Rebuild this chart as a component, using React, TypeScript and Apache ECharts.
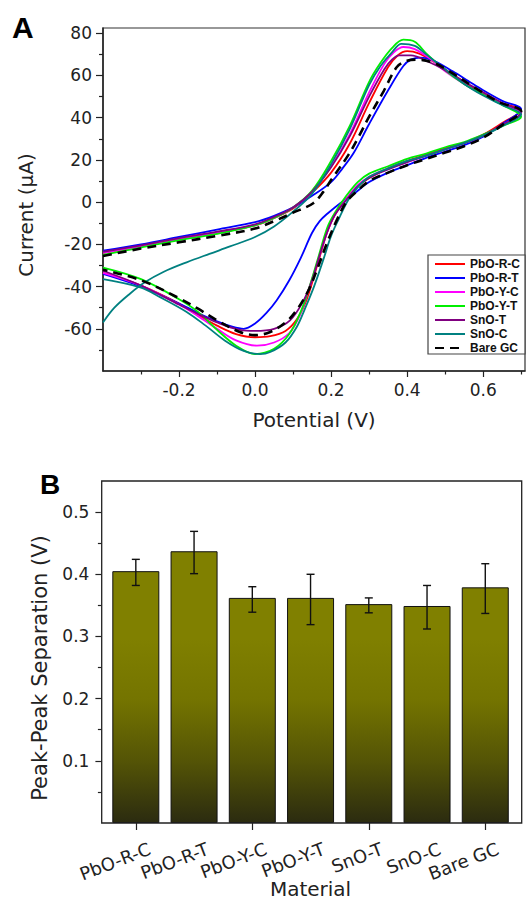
import React, { useEffect, useRef } from "react";
import * as echarts from "echarts";

// ---------- Panel A: cyclic voltammograms (potential V, current µA) ----------
const cvNames = ["PbO-R-C", "PbO-R-T", "PbO-Y-C", "PbO-Y-T", "SnO-T", "SnO-C", "Bare GC"];

const cvPbORC: [number, number][] = [
  [-0.4, -24], [-0.3, -21], [-0.2, -17.5], [-0.1, -14.5], [0, -11], [0.05, -7.5], [0.1, -3], [0.15, 4.5],
  [0.2, 14], [0.25, 28], [0.3, 47], [0.35, 64], [0.375, 69.5], [0.4, 71.5], [0.43, 70.5], [0.47, 66.5],
  [0.52, 60.5], [0.58, 53.5], [0.64, 47.5], [0.7, 43.5],
  [0.65, 37.5], [0.6, 32], [0.55, 28], [0.5, 25.5], [0.45, 22.5], [0.4, 19.5], [0.35, 16], [0.3, 11.5],
  [0.27, 7.5], [0.24, 1.5], [0.21, -6], [0.19, -14], [0.165, -29], [0.136, -46], [0.11, -55.5], [0.08, -61],
  [0.04, -63.5], [0, -64], [-0.05, -62.5], [-0.1, -58.5], [-0.15, -53.5], [-0.2, -48], [-0.3, -39.5], [-0.4, -33.5],
];
const cvPbORT: [number, number][] = [
  [-0.4, -23], [-0.3, -20], [-0.2, -16.5], [-0.1, -13], [0, -9.5], [0.05, -6.5], [0.1, -2.5], [0.15, 3],
  [0.2, 9.5], [0.23, 16], [0.26, 23.5], [0.3, 37], [0.35, 53], [0.39, 64.5], [0.41, 67.5], [0.435, 68.5],
  [0.47, 67], [0.52, 62], [0.56, 57.5], [0.6, 53], [0.65, 48], [0.7, 44],
  [0.65, 37], [0.6, 31], [0.55, 27], [0.5, 24], [0.45, 21], [0.4, 17.5], [0.35, 14], [0.3, 9.5],
  [0.26, 4], [0.224, -0.5], [0.19, -5.5], [0.17, -9], [0.15, -14.5], [0.12, -26.5], [0.09, -37], [0.057, -46.5],
  [0.03, -52.5], [0, -57.5], [-0.03, -60], [-0.06, -59], [-0.1, -56.5], [-0.15, -52.5], [-0.2, -48], [-0.3, -40], [-0.4, -34],
];
const cvPbOYC: [number, number][] = [
  [-0.4, -24], [-0.3, -21], [-0.2, -17.5], [-0.1, -14.5], [0, -11], [0.05, -7.5], [0.1, -2.5], [0.15, 5],
  [0.2, 17], [0.25, 32.5], [0.3, 52], [0.34, 65.5], [0.365, 71], [0.39, 73.5], [0.42, 72.5], [0.46, 68],
  [0.5, 62], [0.55, 56], [0.6, 51], [0.65, 46.5], [0.7, 42],
  [0.65, 36.5], [0.6, 31.5], [0.55, 28], [0.5, 25], [0.45, 22], [0.4, 19], [0.35, 16], [0.3, 12],
  [0.27, 8], [0.24, 1.5], [0.21, -6], [0.19, -14], [0.165, -28], [0.14, -42], [0.118, -53.5], [0.09, -62],
  [0.05, -66.5], [0.005, -68], [-0.05, -65.5], [-0.1, -60], [-0.15, -54], [-0.2, -48.5], [-0.3, -39.5], [-0.4, -33.5],
];
const cvPbOYT: [number, number][] = [
  [-0.4, -25], [-0.3, -21.5], [-0.2, -18], [-0.1, -15], [0, -11], [0.05, -7.5], [0.1, -2.5], [0.15, 5.5],
  [0.2, 19.5], [0.25, 36.5], [0.3, 57], [0.33, 66], [0.36, 73], [0.39, 77], [0.42, 76], [0.45, 70.5],
  [0.5, 62.5], [0.55, 56], [0.6, 51], [0.65, 46], [0.7, 40.5],
  [0.65, 36], [0.6, 32], [0.55, 28.5], [0.5, 26], [0.45, 23], [0.4, 20.5], [0.35, 17], [0.3, 13.5],
  [0.27, 9.5], [0.24, 3], [0.21, -5], [0.19, -12], [0.165, -27], [0.145, -39], [0.12, -52], [0.09, -62.5],
  [0.05, -69.5], [0, -72], [-0.05, -68], [-0.1, -60.5], [-0.15, -52], [-0.2, -46], [-0.3, -36.5], [-0.4, -31],
];
const cvSnOT: [number, number][] = [
  [-0.4, -23.5], [-0.3, -20.5], [-0.2, -17], [-0.1, -14], [0, -10.5], [0.05, -7], [0.1, -2.5], [0.15, 5],
  [0.2, 16.5], [0.25, 31.5], [0.3, 50], [0.34, 63], [0.36, 67.5], [0.38, 69.5], [0.41, 69.5], [0.45, 67],
  [0.5, 62.5], [0.55, 57], [0.6, 52], [0.65, 47], [0.7, 42.5],
  [0.65, 36.5], [0.6, 31.5], [0.55, 28], [0.5, 25], [0.45, 22], [0.4, 19], [0.35, 15.5], [0.3, 11.5],
  [0.27, 7.5], [0.24, 1], [0.21, -6], [0.19, -14], [0.17, -25], [0.15, -37], [0.125, -47.5], [0.092, -56],
  [0.05, -60], [0, -61], [-0.04, -60.5], [-0.1, -57], [-0.15, -53], [-0.2, -48.5], [-0.3, -39.5], [-0.4, -32.5],
];
const cvSnOC: [number, number][] = [
  [-0.4, -57], [-0.37, -50], [-0.33, -43.5], [-0.29, -38], [-0.24, -33], [-0.18, -28.5], [-0.12, -24.5], [-0.066, -21],
  [0, -16.5], [0.05, -11.5], [0.1, -4.5], [0.15, 4], [0.2, 18], [0.25, 35], [0.3, 55.5], [0.33, 64.5],
  [0.36, 71], [0.385, 75], [0.42, 74], [0.45, 70], [0.5, 63], [0.55, 56], [0.6, 50.5], [0.65, 46], [0.7, 41.5],
  [0.65, 36], [0.6, 31.5], [0.55, 28], [0.5, 25], [0.45, 22], [0.4, 19.5], [0.35, 16], [0.3, 12],
  [0.27, 7], [0.245, 1], [0.22, -8], [0.2, -16], [0.18, -27], [0.155, -40], [0.13, -51], [0.11, -59],
  [0.08, -66.5], [0.04, -71], [0.013, -72], [-0.03, -70.5], [-0.08, -65.5], [-0.13, -58.5], [-0.18, -52],
  [-0.25, -45], [-0.3, -40.5], [-0.4, -36.5],
];
const cvBareGC: [number, number][] = [
  [-0.4, -25.5], [-0.3, -22], [-0.2, -19], [-0.1, -16], [0, -12.5], [0.05, -9], [0.1, -5], [0.153, -0.5],
  [0.18, 5], [0.2, 10.5], [0.246, 22.5], [0.274, 31.5], [0.3, 40.5], [0.338, 52.5], [0.373, 64], [0.4, 67],
  [0.425, 67.5], [0.47, 66], [0.52, 61], [0.58, 54], [0.64, 47.5], [0.7, 43],
  [0.65, 36.5], [0.6, 30.5], [0.55, 26.5], [0.5, 23.5], [0.45, 20.5], [0.4, 17.5], [0.35, 14], [0.3, 10],
  [0.27, 5.5], [0.24, 0], [0.215, -8.5], [0.19, -19], [0.165, -31], [0.14, -42], [0.11, -51], [0.083, -56.5],
  [0.04, -61.5], [0, -63], [-0.04, -61.5], [-0.1, -56], [-0.15, -50.5], [-0.2, -45.5], [-0.3, -37], [-0.4, -32],
];
const cvCurves = [cvPbORC, cvPbORT, cvPbOYC, cvPbOYT, cvSnOT, cvSnOC, cvBareGC];

const potentialTicks = [-0.2, 0, 0.2, 0.4, 0.6];
const potentialMinorTicks = [-0.3, -0.1, 0.1, 0.3, 0.5, 0.7];
const currentTicks = [-60, -40, -20, 0, 20, 40, 60, 80];
const currentMinorTicks = [-70, -50, -30, -10, 10, 30, 50, 70];

// ---------- Panel B: peak-peak separation (V) ----------
const materials = ["PbO-R-C", "PbO-R-T", "PbO-Y-C", "PbO-Y-T", "SnO-T", "SnO-C", "Bare GC"];
const peakSeparation = [0.405, 0.437, 0.362, 0.362, 0.352, 0.349, 0.379];
const errorTop = [0.424, 0.469, 0.38, 0.4, 0.362, 0.382, 0.417];
const errorBottom = [0.382, 0.401, 0.339, 0.319, 0.338, 0.312, 0.337];
const sepTicks = [0.1, 0.2, 0.3, 0.4, 0.5];
const sepMinorTicks = [0.05, 0.15, 0.25, 0.35, 0.45];

// ---------- styles ----------
const cvColors = ["#ff0000", "#0000ff", "#ff00ff", "#00ee00", "#800080", "#008080", "#000000"];
const FONT = "DejaVu Sans";
const INK = "#222";

export default function App() {
  const ref = useRef<HTMLDivElement>(null);

  useEffect(() => {
    document.body.style.margin = "0";
    if (!ref.current) return;
    const chart = echarts.init(ref.current, undefined, { renderer: "svg" });

    const tickLabel = { fontFamily: FONT, fontSize: 17, color: INK };

    const lineSeries = cvNames.map((name, i) => ({
      name,
      type: "line",
      xAxisIndex: 0,
      yAxisIndex: 0,
      data: cvCurves[i],
      symbol: "none",
      showSymbol: false,
      smooth: 0.35,
      clip: true,
      z: 2 + i,
      itemStyle: { color: cvColors[i] },
      lineStyle: {
        color: cvColors[i],
        width: name === "Bare GC" ? 2.6 : 1.8,
        type: name === "Bare GC" ? [9, 6] : "solid",
      },
    }));

    const barGradient = new echarts.graphic.LinearGradient(
      0, 481, 0, 823,
      [
        { offset: 0, color: "#808000" },
        { offset: 0.46, color: "#808000" },
        { offset: 0.64, color: "#747400" },
        { offset: 0.82, color: "#545406" },
        { offset: 1, color: "#2b2b10" },
      ],
      true
    );

    const option: any = {
      animation: false,
      textStyle: { fontFamily: FONT, color: INK },
      grid: [
        { left: 103, top: 28, width: 422, height: 343, show: true, borderColor: "#333", borderWidth: 1.2, backgroundColor: "transparent" },
        { left: 106.7, top: 481, width: 407.7, height: 342 },
        { left: 120.7, top: 481, width: 407.7, height: 342 },
      ],
      legend: {
        data: cvNames,
        orient: "vertical",
        left: 428,
        top: 255,
        itemWidth: 30,
        itemHeight: 14,
        itemGap: 2,
        padding: [3, 5, 0, 6],
        borderColor: "#444",
        borderWidth: 1.2,
        backgroundColor: "#fff",
        selectedMode: false,
        itemStyle: { opacity: 0 },
        textStyle: { fontFamily: "Liberation Sans", fontWeight: "bold", fontSize: 12, color: "#111" },
      },
      xAxis: [
        {
          gridIndex: 0, type: "value", min: -0.4, max: 0.71, position: "bottom",
          axisLine: { show: true, onZero: false, lineStyle: { color: INK, width: 1.5 } },
          axisTick: { show: true, inside: false, length: 6, customValues: potentialTicks, lineStyle: { color: INK, width: 1.2 } },
          axisLabel: { customValues: potentialTicks, formatter: (v: number) => v.toFixed(1), margin: 10, ...tickLabel },
          splitLine: { show: false },
          name: "Potential (V)", nameLocation: "middle", nameGap: 39,
          nameTextStyle: { fontFamily: FONT, fontSize: 20, color: INK },
        },
        {
          gridIndex: 0, type: "value", min: -0.4, max: 0.71, position: "bottom",
          axisLine: { show: false, onZero: false },
          axisTick: { show: true, length: 3.5, customValues: potentialMinorTicks, lineStyle: { color: INK, width: 1.2 } },
          axisLabel: { show: false }, splitLine: { show: false },
        },
        {
          gridIndex: 1, type: "category", data: materials, position: "bottom",
          axisLine: { show: false },
          axisTick: { show: true, alignWithLabel: true, length: 7, lineStyle: { color: INK, width: 1.2 } },
          axisLabel: { show: false },
          name: "Material", nameLocation: "middle", nameGap: 56,
          nameTextStyle: { fontFamily: FONT, fontSize: 20, color: INK },
        },
        {
          gridIndex: 2, type: "category", data: materials, position: "bottom",
          axisLine: { show: false }, axisTick: { show: false },
          axisLabel: { rotate: 21, margin: 25, interval: 0, fontFamily: FONT, fontSize: 18, color: INK },
        },
      ],
      yAxis: [
        {
          gridIndex: 0, type: "value", min: -80, max: 82.5, position: "left",
          axisLine: { show: true, onZero: false, lineStyle: { color: INK, width: 1.5 } },
          axisTick: { show: true, length: 7, customValues: currentTicks, lineStyle: { color: INK, width: 1.2 } },
          axisLabel: { customValues: currentTicks, margin: 11, ...tickLabel },
          splitLine: { show: false },
        },
        {
          gridIndex: 0, type: "value", min: -80, max: 82.5, position: "left",
          axisLine: { show: false, onZero: false },
          axisTick: { show: true, length: 4, customValues: currentMinorTicks, lineStyle: { color: INK, width: 1.2 } },
          axisLabel: { show: false }, splitLine: { show: false },
        },
        {
          gridIndex: 1, type: "value", min: 0, max: 0.55, position: "left", offset: 5.3,
          axisLine: { show: false, onZero: false },
          axisTick: { show: true, length: 6, customValues: sepTicks, lineStyle: { color: INK, width: 1.2 } },
          axisLabel: { customValues: sepTicks, formatter: (v: number) => v.toFixed(1), margin: 12, ...tickLabel },
          splitLine: { show: false },
        },
        {
          gridIndex: 1, type: "value", min: 0, max: 0.55, position: "left", offset: 5.3,
          axisLine: { show: false, onZero: false },
          axisTick: { show: true, length: 3.5, customValues: sepMinorTicks, lineStyle: { color: INK, width: 1.2 } },
          axisLabel: { show: false }, splitLine: { show: false },
        },
        { gridIndex: 2, type: "value", min: 0, max: 0.55, show: false },
      ],
      series: [
        ...lineSeries,
        {
          name: "Peak-Peak Separation",
          type: "bar",
          xAxisIndex: 2,
          yAxisIndex: 2,
          data: peakSeparation,
          barWidth: 47,
          itemStyle: { color: barGradient, borderColor: "#111", borderWidth: 1 },
          z: 2,
        },
        {
          name: "Error",
          type: "custom",
          xAxisIndex: 2,
          yAxisIndex: 2,
          data: materials.map((_, i) => [i, errorTop[i], errorBottom[i]]),
          encode: { x: 0, y: [1, 2] },
          z: 5,
          renderItem: (_params: any, api: any) => {
            const idx = api.value(0);
            const top = api.coord([idx, api.value(1)]);
            const bottom = api.coord([idx, api.value(2)]);
            const half = 4;
            const style = { stroke: "#111", lineWidth: 1.4 };
            return {
              type: "group",
              children: [
                { type: "line", shape: { x1: top[0], y1: top[1], x2: bottom[0], y2: bottom[1] }, style },
                { type: "line", shape: { x1: top[0] - half, y1: top[1], x2: top[0] + half, y2: top[1] }, style },
                { type: "line", shape: { x1: bottom[0] - half, y1: bottom[1], x2: bottom[0] + half, y2: bottom[1] }, style },
              ],
            };
          },
        },
      ],
      graphic: [
        {
          type: "text", left: 12, top: 12, z: 100,
          style: { text: "A", fontFamily: "Liberation Sans", fontWeight: "bold", fontSize: 30, fill: "#000" },
        },
        {
          type: "text", left: 40, top: 470, z: 100,
          style: { text: "B", fontFamily: "Liberation Sans", fontWeight: "bold", fontSize: 28, fill: "#000" },
        },
        {
          type: "text", x: 25.5, y: 215, rotation: Math.PI / 2, z: 100,
          style: {
            text: "Current (μA)", fontFamily: FONT, fontSize: 20, fill: INK,
            align: "center", verticalAlign: "middle", textAlign: "center", textVerticalAlign: "middle",
          },
        },
        {
          type: "text", x: 40, y: 668, rotation: Math.PI / 2, z: 100,
          style: {
            text: "Peak-Peak Separation (V)", fontFamily: FONT, fontSize: 21, fill: INK,
            align: "center", verticalAlign: "middle", textAlign: "center", textVerticalAlign: "middle",
          },
        },
        {
          type: "rect", z: 100,
          shape: { x: 101.7, y: 481, width: 420, height: 342 },
          style: { fill: "none", stroke: INK, lineWidth: 1.3 },
        },
      ],
    };

    chart.setOption(option);
    return () => chart.dispose();
  }, []);

  return <div ref={ref} style={{ width: 527, height: 901 }} />;
}
